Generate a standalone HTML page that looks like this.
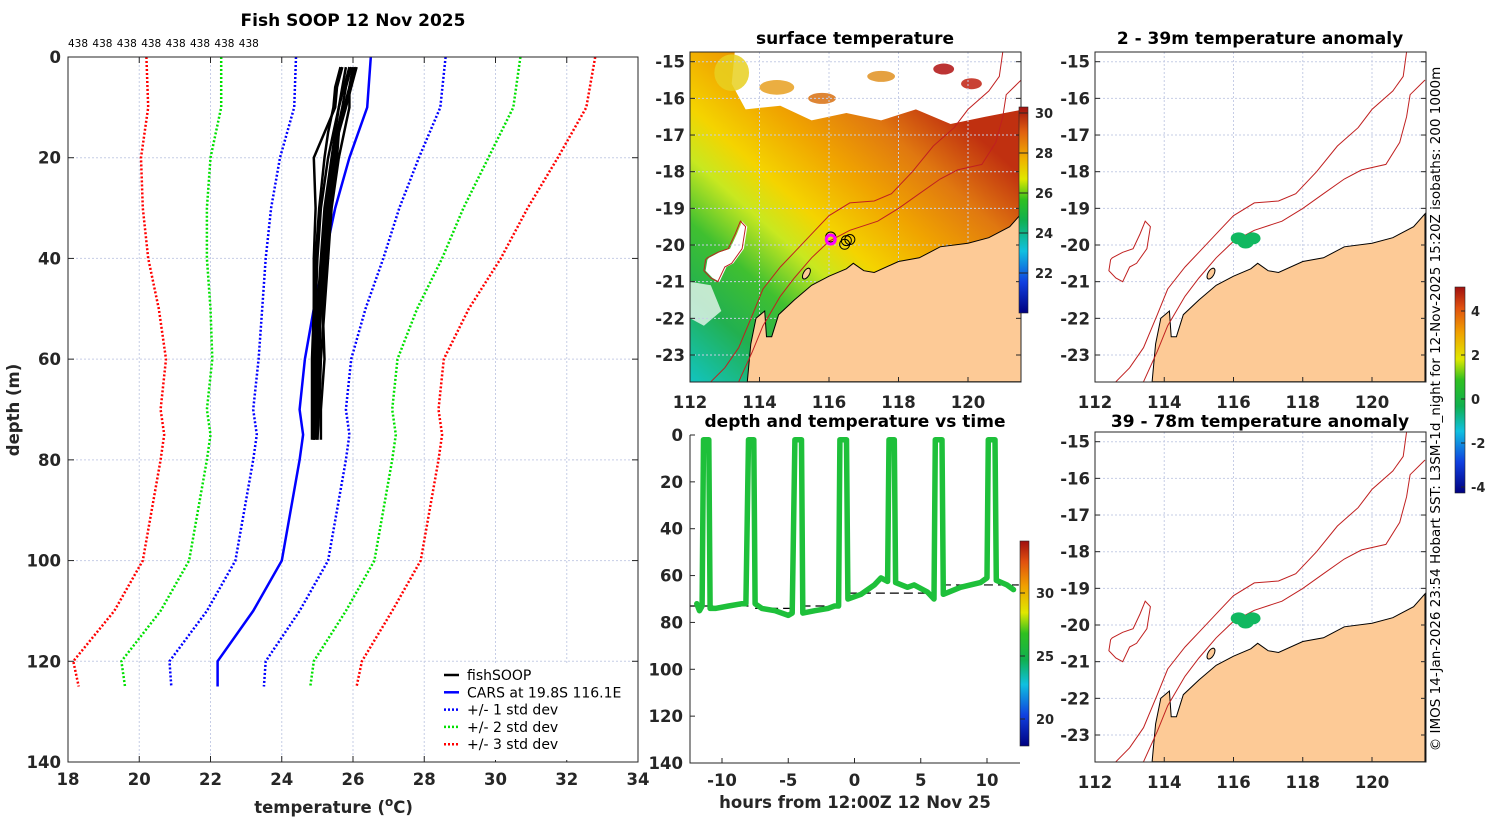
<!DOCTYPE html>
<html><head><meta charset="utf-8">
<style>
html,body{margin:0;padding:0;background:#fff;}
svg{display:block;font-family:"DejaVu Sans","Liberation Sans",sans-serif;}
.tk{font-size:16.5px;font-weight:bold;fill:#262626;}
.ttl{font-size:17px;font-weight:bold;fill:#000;}
</style></head>
<body>
<svg id="fig" width="1500" height="820" viewBox="0 0 1500 820" xmlns="http://www.w3.org/2000/svg">
<defs>
<linearGradient id="sstGrad" x1="0" y1="1" x2="0.75" y2="0.15">
<stop offset="0" stop-color="#12c4c0"/>
<stop offset="0.18" stop-color="#22b050"/>
<stop offset="0.32" stop-color="#40c030"/>
<stop offset="0.45" stop-color="#c8e820"/>
<stop offset="0.55" stop-color="#f4d400"/>
<stop offset="0.7" stop-color="#f0a400"/>
<stop offset="0.85" stop-color="#e07810"/>
<stop offset="1" stop-color="#c03010"/>
</linearGradient>
<linearGradient id="cbSst" x1="0" y1="1" x2="0" y2="0">
<stop offset="0" stop-color="#000080"/>
<stop offset="0.15" stop-color="#1040e0"/>
<stop offset="0.3" stop-color="#10c0e0"/>
<stop offset="0.45" stop-color="#10b050"/>
<stop offset="0.55" stop-color="#30c020"/>
<stop offset="0.65" stop-color="#e0e800"/>
<stop offset="0.75" stop-color="#f0b000"/>
<stop offset="0.88" stop-color="#e06010"/>
<stop offset="1" stop-color="#a01010"/>
</linearGradient>
<linearGradient id="cbJet" x1="0" y1="1" x2="0" y2="0">
<stop offset="0" stop-color="#000080"/>
<stop offset="0.15" stop-color="#1040e0"/>
<stop offset="0.3" stop-color="#10c0e0"/>
<stop offset="0.42" stop-color="#10b050"/>
<stop offset="0.55" stop-color="#30c020"/>
<stop offset="0.65" stop-color="#e0e800"/>
<stop offset="0.78" stop-color="#f0a000"/>
<stop offset="0.9" stop-color="#e05010"/>
<stop offset="1" stop-color="#a01010"/>
</linearGradient>
<clipPath id="clipSst"><rect x="690" y="52" width="331" height="330"/></clipPath>
<clipPath id="clipA1"><rect x="1095" y="52" width="331" height="330"/></clipPath>
<clipPath id="clipA2"><rect x="1095" y="432" width="331" height="330"/></clipPath>
</defs>
<g id="root"></g>
</svg>
<script>
// ---------- profile panel data ----------
const cDepths = [0,10,20,30,40,50,60,70,75,80,90,100,110,120,125];
const cMean   = [26.5,26.4,25.9,25.5,25.2,24.9,24.65,24.5,24.6,24.5,24.25,24.0,23.2,22.2,22.2];
const cStd    = [2.1,2.05,1.95,1.8,1.65,1.45,1.3,1.3,1.3,1.3,1.3,1.3,1.3,1.35,1.3];
const pDepths = [2,6,10,15,20,30,40,50,60,70,76];
const prof1 = [25.9,25.75,25.6,25.45,25.3,25.1,25.0,24.95,24.9,24.9,24.9];
const prof2 = [26.1,25.95,25.8,25.6,25.5,25.3,25.2,25.1,25.05,25.0,25.0];
const prof3 = [25.7,25.55,25.5,25.2,24.9,24.95,24.9,24.9,24.85,24.85,24.85];
const prof4 = [26.0,25.9,25.9,25.75,25.6,25.4,25.3,25.2,25.1,25.05,25.0];
const prof5 = [25.8,25.7,25.6,25.5,25.4,25.2,25.1,25.0,24.95,24.9,24.9];
const prof6 = [26.05,25.9,25.75,25.6,25.55,25.35,25.25,25.15,25.2,25.1,25.1];
const prof7 = [25.65,25.5,25.45,25.3,25.2,25.05,24.95,24.9,24.95,24.95,24.95];
const prof8 = [25.95,25.8,25.7,25.55,25.45,25.25,25.15,25.05,25.0,24.95,24.9];
const profiles = [prof1,prof2,prof3,prof4,prof5,prof6,prof7,prof8];
const tempTicks = [18,20,22,24,26,28,30,32,34];
const depthTicks = [0,20,40,60,80,100,120,140];
const countLabels = ["438","438","438","438","438","438","438","438"];
// ---------- time series data ----------
const tHours = [-11.9,-11.7,-11.5,-11.4,-11.0,-10.9,-10.5,-9.5,-8.5,-8.2,-8.0,-7.6,-7.5,-7.0,-6.0,-5.0,-4.7,-4.5,-4.0,-3.9,-3.0,-2.0,-1.5,-1.2,-1.1,-0.6,-0.5,0.5,1.5,2.0,2.5,2.6,3.0,3.1,4.0,4.5,5.5,6.0,6.1,6.6,6.7,8.0,9.5,10.0,10.1,10.6,10.7,11.5,12.0];
const tDepth = [72,75,73,2,2,74,74,73,72,72,2,2,72,74,75,77,76,2,2,76,75,74,73,73,2,2,70,68,64,61,62.5,2,2,63,65,64,67,70,2,2,68,65,63,61,2,2,62,64,66];
const bStart = [-12.4,-7.5,-4.0,-0.5,6.6];
const bEnd = [-8.0,-4.5,-1.0,6.0,12.4];
const bDepth = [73,74,73,67.5,64];
const hourTicks = [-10,-5,0,5,10];
const tsDepthTicks = [0,20,40,60,80,100,120,140];
// ---------- map data ----------
const lonTicks = [112,114,116,118,120];
const latTicks = [-15,-16,-17,-18,-19,-20,-21,-22,-23];
const coastLon = [113.65,113.75,113.9,114.15,114.2,114.35,114.55,115.0,115.5,116.0,116.5,116.7,117.0,117.3,118.0,118.6,118.9,119.2,120.0,120.6,121.2,121.53,121.53];
const coastLat = [-23.73,-22.7,-22.0,-21.8,-22.5,-22.5,-21.9,-21.5,-21.1,-20.85,-20.65,-20.5,-20.7,-20.75,-20.45,-20.35,-20.2,-20.05,-19.95,-19.8,-19.5,-19.15,-23.73];
const iso200Lon = [113.4,113.8,114.1,114.6,115.0,115.5,116.0,116.6,117.4,118.0,118.6,119.2,119.7,120.4,120.8,121.0,121.1,121.53];
const iso200Lat = [-23.73,-22.9,-22.2,-21.4,-20.9,-20.35,-19.9,-19.6,-19.35,-19.0,-18.6,-18.2,-17.95,-17.8,-17.2,-16.5,-15.9,-15.5];
const iso1000Lon = [112.6,113.0,113.4,113.8,114.1,114.6,115.0,115.6,116.0,116.6,117.3,117.8,118.4,119.0,119.6,120.0,120.6,120.9,121.0];
const iso1000Lat = [-23.73,-23.35,-22.8,-21.9,-21.2,-20.6,-20.2,-19.6,-19.2,-18.85,-18.8,-18.6,-18.0,-17.3,-16.8,-16.3,-15.8,-15.4,-14.73];
const plateauLon = [112.5,112.8,113.1,113.3,113.45,113.6,113.5,113.2,113.0,112.8,112.6,112.4,112.45];
const plateauLat = [-20.35,-20.2,-20.1,-19.7,-19.35,-19.5,-20.1,-20.5,-20.6,-21.0,-20.9,-20.7,-20.4];
const shipLon = [116.05,116.45,116.6,116.5];
const shipLat = [-19.78,-19.98,-19.85,-19.88];
const sstTicks = [22,24,26,28,30];
const anomTicks = [-4,-2,0,2,4];
const tsCbTicks = [20,25,30];

const NS = "http://www.w3.org/2000/svg";
const root = document.getElementById('root');
function mk(tag, attrs, parent){const e=document.createElementNS(NS,tag);for(const k in attrs)e.setAttribute(k,attrs[k]);(parent||root).appendChild(e);return e;}
function txt(x,y,s,cls,anchor,parent,extra){const e=mk('text',Object.assign({x:x,y:y,'text-anchor':anchor||'middle'},extra||{}),parent);if(cls)e.setAttribute('class',cls);e.textContent=s;return e;}

// ===== Profile panel =====
const PX0=68,PX1=638,PY0=57,PY1=762;
const px = t => PX0 + (t-18)/(34-18)*(PX1-PX0);
const py = d => PY0 + d/140*(PY1-PY0);
const gP = mk('g',{});


tempTicks.forEach(t=>{ if(t>18&&t<34){const l=mk('line',{x1:px(t),x2:px(t),y1:PY0,y2:PY1,stroke:'#c6cde6','stroke-width':1,'stroke-dasharray':'2,2'},gP);  }});
depthTicks.forEach(d=>{ if(d>0&&d<140){const l=mk('line',{x1:PX0,x2:PX1,y1:py(d),y2:py(d),stroke:'#c6cde6','stroke-width':1,'stroke-dasharray':'2,2'},gP);  }});
function polyPath(xs,ys){return xs.map((x,i)=>(i?'L':'M')+x.toFixed(1)+','+ys[i].toFixed(1)).join('');}
const stdSets=[[3,'#ff0000'],[2,'#00e000'],[1,'#0000ff']];
stdSets.forEach(([k,col])=>{
  [-1,1].forEach(sg=>{
    const p=mk('path',{d:polyPath(cDepths.map((d,i)=>px(cMean[i]+sg*k*cStd[i])),cDepths.map(py)),fill:'none',stroke:col,'stroke-width':2.5,'stroke-dasharray':'2,2'},gP);
    
    
  });
});
const cm=mk('path',{d:polyPath(cDepths.map((d,i)=>px(cMean[i])),cDepths.map(py)),fill:'none',stroke:'#0000ff','stroke-width':2.5},gP);


profiles.forEach((pr,j)=>{
  const p=mk('path',{d:polyPath(pr.map(px),pDepths.map(py)),fill:'none',stroke:'#000','stroke-width':2.5,'stroke-linejoin':'round'},gP);
  
  
});
const fr=mk('rect',{x:PX0,y:PY0,width:PX1-PX0,height:PY1-PY0,fill:'none',stroke:'#262626','stroke-width':1},gP);


tempTicks.forEach(t=>{mk('line',{x1:px(t),x2:px(t),y1:PY1,y2:PY1-6,stroke:'#262626'},gP);mk('line',{x1:px(t),x2:px(t),y1:PY0,y2:PY0+6,stroke:'#262626'},gP);
  const e=txt(px(t),785,String(t),'tk','middle',gP);  });
depthTicks.forEach(d=>{mk('line',{x1:PX0,x2:PX0+6,y1:py(d),y2:py(d),stroke:'#262626'},gP);mk('line',{x1:PX1,x2:PX1-6,y1:py(d),y2:py(d),stroke:'#262626'},gP);
  const e=txt(61,py(d)+6,String(d),'tk','end',gP);  });
countLabels.forEach((s,i)=>{const e=txt(68+i*24.4,47,s,null,'start',gP,{'font-size':'10.5'});  });
let e;
e=txt(353,26,'Fish SOOP 12 Nov 2025','ttl','middle',gP);  
e=txt(385,813,'temperature (','tk','end',gP,{'font-size':'17.5'});  
e=mk('text',{x:385,y:813,'text-anchor':'start',class:'tk','font-size':'17.5'},gP); e.innerHTML='<tspan dy="-7" font-size="12">o</tspan><tspan dy="7">C)</tspan>';  
e=txt(0,0,'depth (m)','tk','middle',gP,{transform:'translate(19,410) rotate(-90)','font-size':'17.5'});  
const lg=mk('g',{},gP);  
mk('rect',{x:437,y:664,width:199,height:96,fill:'#fff'},lg);
const legItems=[['fishSOOP','#000',''],['CARS at 19.8S 116.1E','#0000ff',''],['+/- 1 std dev','#0000ff','2,2'],['+/- 2 std dev','#00e000','2,2'],['+/- 3 std dev','#ff0000','2,2']];
legItems.forEach((it,i)=>{const y=675+i*17.3;
  const g=mk('g',{},lg);  
  mk('line',{x1:444,x2:459,y1:y,y2:y,stroke:it[1],'stroke-width':2.5,'stroke-dasharray':it[2]||'none'},g);
  txt(467,y+5,it[0],null,'start',g,{'font-size':'14',fill:'#000'});});

// ===== Map helpers =====
function mapAxes(x0,x1lon112,x120,yM15,yM23,top,bot,right,clip,name,withSst){
  const lx = lon => x1lon112 + (lon-112)/8*(x120-x1lon112);
  const ly = lat => yM15 + (-15-lat)/8*(yM23-yM15);
  const g=mk('g',{});
  
  
  const inner=mk('g',{'clip-path':'url(#'+clip+')'},g);
  if(withSst){
    mk('rect',{x:x0,y:top,width:right-x0,height:bot-top,fill:'url(#sstGrad)'},inner);
    const cl1Lon=[112.9,121.6,121.6,120.5,119.5,118.5,117.5,116.5,115.5,114.6,113.6,113.2,113.3];
    const cl1Lat=[-14.6,-14.6,-16.3,-16.5,-16.7,-16.3,-16.6,-16.4,-16.6,-16.2,-16.3,-15.6,-14.6];
    mk('path',{d:polyPath(cl1Lon.map(lx),cl1Lat.map(ly))+'Z',fill:'#fff'},inner);
    mk('path',{d:polyPath(plateauLon.map(v=>lx(v+0.05)),plateauLat.map(ly))+'Z',fill:'#fff'},inner);
    mk('path',{d:polyPath([112,112.6,112.9,112.4,112].map(lx),[-21.0,-21.1,-21.8,-22.2,-22.0].map(ly))+'Z',fill:'#eaf6f0',opacity:0.8},inner);
    [[114.5,-15.7,0.5,0.2,'#e8a020'],[117.5,-15.4,0.4,0.15,'#e09020'],[119.3,-15.2,0.3,0.15,'#b01010'],[120.1,-15.6,0.3,0.15,'#c02010'],[113.2,-15.3,0.5,0.5,'#e8d020'],[115.8,-16.0,0.4,0.15,'#d87010']].forEach(b=>{
      mk('ellipse',{cx:lx(b[0]),cy:ly(b[1]),rx:b[2]*34.7,ry:b[3]*36.7,fill:b[4],opacity:0.85},inner);});
  }
  lonTicks.forEach(v=>{mk('line',{x1:lx(v),x2:lx(v),y1:top,y2:bot,stroke:'#c6cde6','stroke-dasharray':'2,2'},inner);});
  latTicks.forEach(v=>{mk('line',{x1:x0,x2:right,y1:ly(v),y2:ly(v),stroke:'#c6cde6','stroke-dasharray':'2,2'},inner);});
  const land=mk('path',{d:polyPath(coastLon.map(lx),coastLat.map(ly))+'Z',fill:'#fdca96',stroke:'#000','stroke-width':1},inner);
   
  [[iso200Lon,iso200Lat],[iso1000Lon,iso1000Lat]].forEach(([a,b])=>{const p=mk('path',{d:polyPath(a.map(lx),b.map(ly)),fill:'none',stroke:'#c02020','stroke-width':1},inner);});
  const pl=mk('path',{d:polyPath(plateauLon.map(lx),plateauLat.map(ly))+'Z',fill:'none',stroke:'#c02020','stroke-width':1},inner);
   
  mk('ellipse',{cx:lx(115.35),cy:ly(-20.78),rx:3,ry:6,fill:'#fdca96',stroke:'#000',transform:`rotate(30 ${lx(115.35)} ${ly(-20.78)})`},inner);
  mk('rect',{x:x0,y:top,width:right-x0,height:bot-top,fill:'none',stroke:'#262626'},g);
  lonTicks.forEach(v=>{mk('line',{x1:lx(v),x2:lx(v),y1:bot,y2:bot-5,stroke:'#262626'},g);
    const t=txt(lx(v),bot+26,String(v),'tk','middle',g);  });
  latTicks.forEach(v=>{mk('line',{x1:x0,x2:x0+5,y1:ly(v),y2:ly(v),stroke:'#262626'},g);mk('line',{x1:right,x2:right-5,y1:ly(v),y2:ly(v),stroke:'#262626'},g);
    const t=txt(x0-5,ly(v)+6,String(v),'tk','end',g);  });
  return {g,inner,lx,ly};
}
const m1=mapAxes(690,690,968,61.7,355,52,382,1021,'clipSst','sst-map',true);
shipLon.forEach((lo,i)=>{const c=mk('circle',{cx:m1.lx(lo),cy:m1.ly(shipLat[i]),r:5,fill:'none',stroke:'#000','stroke-width':1},m1.inner);});
e=mk('circle',{cx:m1.lx(116.05),cy:m1.ly(-19.85),r:4.5,fill:'none',stroke:'#ff00ff','stroke-width':3},m1.inner);  
e=txt(855,44,'surface temperature','ttl','middle',m1.g);  
const cb1=mk('g',{});  
const cbY = v => 313 - (v-20)/(30.3-20)*(313-107);
mk('rect',{x:1019,y:107,width:9,height:206,fill:'url(#cbSst)'},cb1);
mk('rect',{x:1019,y:107,width:9,height:206,fill:'none',stroke:'#262626','stroke-width':0.6},cb1);
sstTicks.forEach(v=>{mk('line',{x1:1019,x2:1028,y1:cbY(v),y2:cbY(v),stroke:'#262626'},cb1);txt(1035,cbY(v)+5,String(v),null,'start',cb1,{'font-size':'13','font-weight':'bold',fill:'#262626'});});

const m2=mapAxes(1095,1095,1372,61.7,355,52,382,1426,'clipA1','anomaly-map-2-39m',false);
const m3=mapAxes(1095,1095,1372,441.7,735,432,762,1426,'clipA2','anomaly-map-39-78m',false);
[m2,m3].forEach(m=>{[[116.15,-19.82],[116.55,-19.82],[116.35,-19.93]].forEach(p=>{const c=mk('ellipse',{cx:m.lx(p[0]),cy:m.ly(p[1]),rx:8,ry:6,fill:'#10b860'},m.inner);});});
e=txt(1260,44,'2 - 39m temperature anomaly','ttl','middle',m2.g);  
e=txt(1260,427,'39 - 78m temperature anomaly','ttl','middle',m3.g);  
const cb2=mk('g',{});  
const acY = v => 399 - v/4*(399-311);
mk('rect',{x:1455,y:287,width:10,height:206,fill:'url(#cbJet)'},cb2);
mk('rect',{x:1455,y:287,width:10,height:206,fill:'none',stroke:'#262626','stroke-width':0.6},cb2);
anomTicks.forEach(v=>{mk('line',{x1:1465,x2:1461,y1:acY(v),y2:acY(v),stroke:'#262626'},cb2);txt(1471,acY(v)+5,String(v),null,'start',cb2,{'font-size':'13','font-weight':'bold',fill:'#262626'});});
e=txt(0,0,'© IMOS 14-Jan-2026 23:54 Hobart SST: L3SM-1d_night for 12-Nov-2025 15:20Z isobaths: 200  1000m',null,'middle',root,{transform:'translate(1440,409) rotate(-90)','font-size':'13.5',fill:'#000'});
 

// ===== time series =====
const TX0=690,TX1=1020,TY0=435,TY1=763;
const tx = h => 722 + (h+10)/20*(987-722);
const ty = d => TY0 + d/140*(TY1-TY0);
const gT=mk('g',{});  
bStart.forEach((s,i)=>{const l=mk('line',{x1:tx(s),x2:tx(bEnd[i]),y1:ty(bDepth[i]),y2:ty(bDepth[i]),stroke:'#000','stroke-width':1.2,'stroke-dasharray':'9,5'},gT);});
const tr=mk('path',{d:polyPath(tHours.map(tx),tDepth.map(ty)),fill:'none',stroke:'#1ec03a','stroke-width':5.5,'stroke-linejoin':'round','stroke-linecap':'round'},gT);
 
mk('path',{d:`M${TX0},${TY0}V${TY1}H${TX1}`,fill:'none',stroke:'#262626'},gT);
hourTicks.forEach(h=>{mk('line',{x1:tx(h),x2:tx(h),y1:TY1,y2:TY1-5,stroke:'#262626'},gT);const t=txt(tx(h),TY1+23,String(h),'tk','middle',gT);});
tsDepthTicks.forEach(d=>{mk('line',{x1:TX0,x2:TX0+5,y1:ty(d),y2:ty(d),stroke:'#262626'},gT);const t=txt(683,ty(d)+6,String(d),'tk','end',gT);});
e=txt(855,427,'depth and temperature vs time','ttl','middle',gT);  
e=txt(855,808,'hours from 12:00Z 12 Nov 25','tk','middle',gT,{'font-size':'18'});  
const cb3=mk('g',{});  
const tcY = v => 656 - (v-25)/5*(656-593);
mk('rect',{x:1020,y:541,width:9,height:205,fill:'url(#cbJet)'},cb3);
mk('rect',{x:1020,y:541,width:9,height:205,fill:'none',stroke:'#262626','stroke-width':0.6},cb3);
tsCbTicks.forEach(v=>{mk('line',{x1:1020,x2:1025,y1:tcY(v),y2:tcY(v),stroke:'#262626'},cb3);txt(1036,tcY(v)+5,String(v),null,'start',cb3,{'font-size':'13','font-weight':'bold',fill:'#262626'});});
</script>
</body></html>
